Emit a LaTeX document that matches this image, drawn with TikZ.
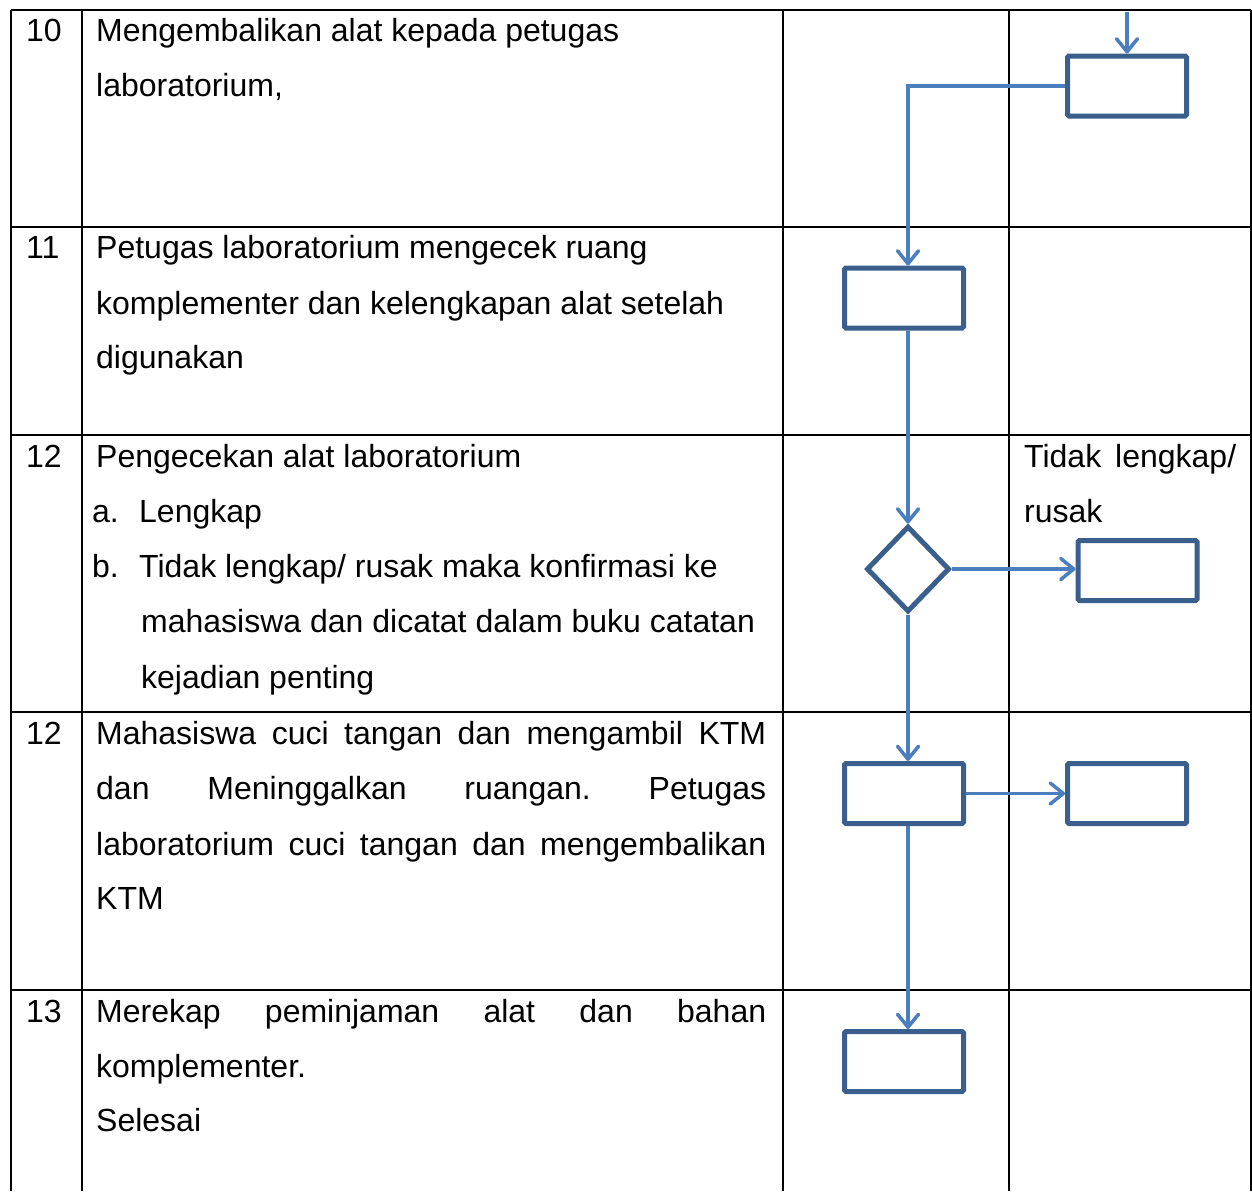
\documentclass[tikz,border=0pt]{standalone}
\usepackage{fontspec}
\setmainfont{Liberation Sans}
\usetikzlibrary{arrows.meta,shapes.geometric}
\definecolor{boxc}{HTML}{3B5F8C}
\definecolor{arrc}{HTML}{4A7EBE}
\begin{document}
\frenchspacing
\begin{tikzpicture}[x=1pt,y=-1pt,
  grid/.style={line width=2.5pt,black},
  box/.style={draw=boxc,line width=5pt,minimum width=119pt,minimum height=60pt,inner sep=0pt,rounded corners=1.5pt},
  dec/.style={draw=boxc,line width=5pt,diamond,minimum width=83pt,minimum height=86pt,inner sep=0pt},
  arr/.style={draw=arrc,line width=3.5pt,-{Straight Barb[length=13pt,width=21pt,line width=3.5pt,round]}},
  tx/.style={anchor=base west,inner sep=0pt,font=\fontsize{32}{40}\selectfont}]
\useasboundingbox (0,0) rectangle (1252,1191);
% grid
\draw[grid] (11,10) -- (1251,10);
\foreach \yy in {227,435,712,990} \draw[grid] (11,\yy) -- (1251,\yy);
\foreach \xx in {11,82,783,1009,1251} \draw[grid] (\xx,10) -- (\xx,1191);
% row numbers
\node[tx] (n10) at (26,41) {10};
\node[tx] (n11) at (26,258) {11};
\node[tx] (n12) at (26,467) {12};
\node[tx] (n12b) at (26,744) {12};
\node[tx] (n13) at (26,1022) {13};
% texts
\node[tx] (t10a) at (96,41) {Mengembalikan alat kepada petugas};
\node[tx] (t10b) at (96,96) {laboratorium,};
\node[tx] (t11a) at (96,258) {Petugas laboratorium mengecek ruang};
\node[tx] (t11b) at (96,314) {komplementer dan kelengkapan alat setelah};
\node[tx] (t11c) at (96,368) {digunakan};
\node[tx] (t12a) at (96,467) {Pengecekan alat laboratorium};
\node[tx] (t12b) at (92,522) {a.};
\node[tx] (t12c) at (139,522) {Lengkap};
\node[tx] (t12d) at (92,577) {b.};
\node[tx] (t12e) at (139,577) {Tidak lengkap/ rusak maka konfirmasi ke};
\node[tx] (t12f) at (141,632) {mahasiswa dan dicatat dalam buku catatan};
\node[tx] (t12g) at (141,688) {kejadian penting};
\node[tx] (t13a) at (96,744) {\makebox[670pt][s]{Mahasiswa cuci tangan dan mengambil KTM}};
\node[tx] (t13b) at (96,799) {\makebox[670pt][s]{dan Meninggalkan ruangan. Petugas}};
\node[tx] (t13c) at (96,855) {\makebox[670pt][s]{laboratorium cuci tangan dan mengembalikan}};
\node[tx] (t13d) at (96,909) {KTM};
\node[tx] (t14a) at (96,1022) {\makebox[670pt][s]{Merekap peminjaman alat dan bahan}};
\node[tx] (t14b) at (96,1077) {komplementer.};
\node[tx] (t14c) at (96,1131) {Selesai};
\node[tx] (tl1) at (1024,467) {\makebox[212pt][s]{Tidak lengkap/}};
\node[tx] (tl2) at (1024,522) {rusak};
% shapes
\node[box] (b10) at (1127,86) {};
\node[box] (b11) at (904,298) {};
\node[dec] (dia) at (908,569) {};
\node[box] (tb) at (1137.5,570.5) {};
\node[box] (b12) at (904,793.5) {};
\node[box] (b12r) at (1127,793.5) {};
\node[box] (b13) at (904,1061.5) {};
\coordinate (s0) at (1127,12);
% connectors
\draw[arr] (s0) -- (b10.north);
\draw[arr] (b10.west) -| (dia.north |- b11.north);
\draw[arr] (dia.north |- b11.south) -- (dia.north);
\draw[arr] (dia.east) -- (dia.east -| tb.west);
\draw[arr] (dia.south) -- (dia.south |- b12.north);
\draw[arr] (b12.east) -- (b12r.west);
\draw[arr] (dia.south |- b12.south) -- (dia.south |- b13.north);
\end{tikzpicture}
\end{document}
